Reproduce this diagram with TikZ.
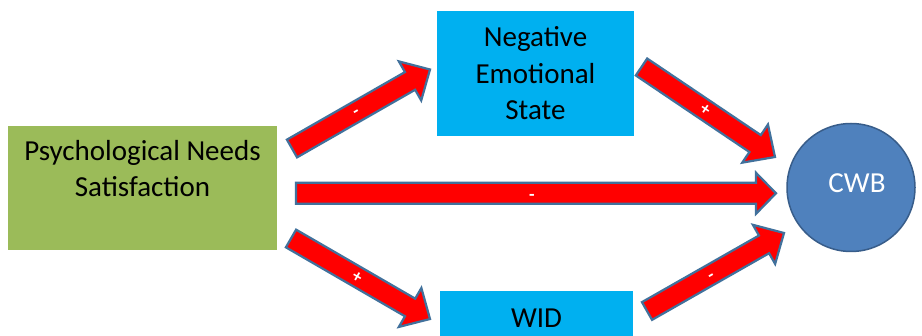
\documentclass[tikz,border=0pt]{standalone}
\usepackage{fontspec}
\setmainfont{Carlito}
\usetikzlibrary{calc}
\definecolor{pnsgreen}{HTML}{9BBB59}
\definecolor{boxblue}{HTML}{00B0F0}
\definecolor{cwbblue}{HTML}{4F81BD}
\definecolor{cwbedge}{HTML}{385D8A}
\definecolor{arrowedge}{HTML}{41719C}
\tikzset{
  blk/.style={fill=red, draw=arrowedge, line width=2.2pt, line join=miter},
  boxtext/.style={font=\fontsize{29}{36.5}\selectfont, align=center, inner sep=0pt},
  sign/.style={text=white, font=\fontsize{18}{18}\selectfont\bfseries, inner sep=0pt},
}
% #1 tail, #2 tip, #3 shaft half width, #4 head half width, #5 head length
\newcommand\blkarrow[5]{%
  \coordinate (nk) at ($(#2)!#5!(#1)$);
  \draw[blk] ($(#1)!#3!90:(#2)$) -- ($(nk)!#3!90:(#2)$) -- ($(nk)!#4!90:(#2)$)
    -- (#2) -- ($(nk)!#4!-90:(#2)$) -- ($(nk)!#3!-90:(#2)$)
    -- ($(#1)!#3!-90:(#2)$) -- cycle;}
\begin{document}
\begin{tikzpicture}[x=1pt,y=-1pt]
\useasboundingbox (0,0) rectangle (922,336);
\fill[white] (0,0) rectangle (922,336);
% nodes
\node[boxtext, fill=pnsgreen, minimum width=269pt, minimum height=124pt] (pns) at (142.5,188)
  {Psychological Needs\\Satisfaction\\[-8pt]\strut};
\node[boxtext, fill=boxblue, minimum width=197pt, minimum height=125pt] (nes) at (535.5,73.5)
  {Negative\\Emotional\\State};
\node[boxtext, fill=boxblue, minimum width=193pt, minimum height=54pt] (wid) at (536.5,318) {WID};
\node[circle, fill=cwbblue, draw=cwbedge, line width=1.5pt, minimum size=128pt, inner sep=0pt] (cwb) at (851,187.5) {};
\node[boxtext, text=white] (cwbt) at (857,183) {CWB};
% arrow end points
\coordinate (a1s) at (292,148.5);  \coordinate (a1e) at (430,69.5);
\coordinate (a2s) at (641.5,67);   \coordinate (a2e) at (775,157);
\coordinate (a3s) at (296,193.3);  \coordinate (a3e) at (776,193.3);
\coordinate (a4s) at (291,238.5);  \coordinate (a4e) at (430,319);
\coordinate (a5s) at (647,311);    \coordinate (a5e) at (784,233);
% arrows
\blkarrow{a1s}{a1e}{10.2pt}{22.5pt}{23pt}
\blkarrow{a2s}{a2e}{10.2pt}{23pt}{24pt}
\blkarrow{a3s}{a3e}{10.5pt}{20.5pt}{20pt}
\blkarrow{a4s}{a4e}{10.2pt}{22.5pt}{23pt}
\blkarrow{a5s}{a5e}{10.2pt}{22.5pt}{23pt}
% signs
\node[sign, rotate=30] (s1) at (357,114) {-};
\node[sign, rotate=-34] (s2) at (705,110) {+};
\node[sign] (s3) at (532,197) {-};
\node[sign, rotate=-30] (s4) at (357,277) {+};
\node[sign, rotate=30] (s5) at (712,277) {-};
\end{tikzpicture}
\end{document}
